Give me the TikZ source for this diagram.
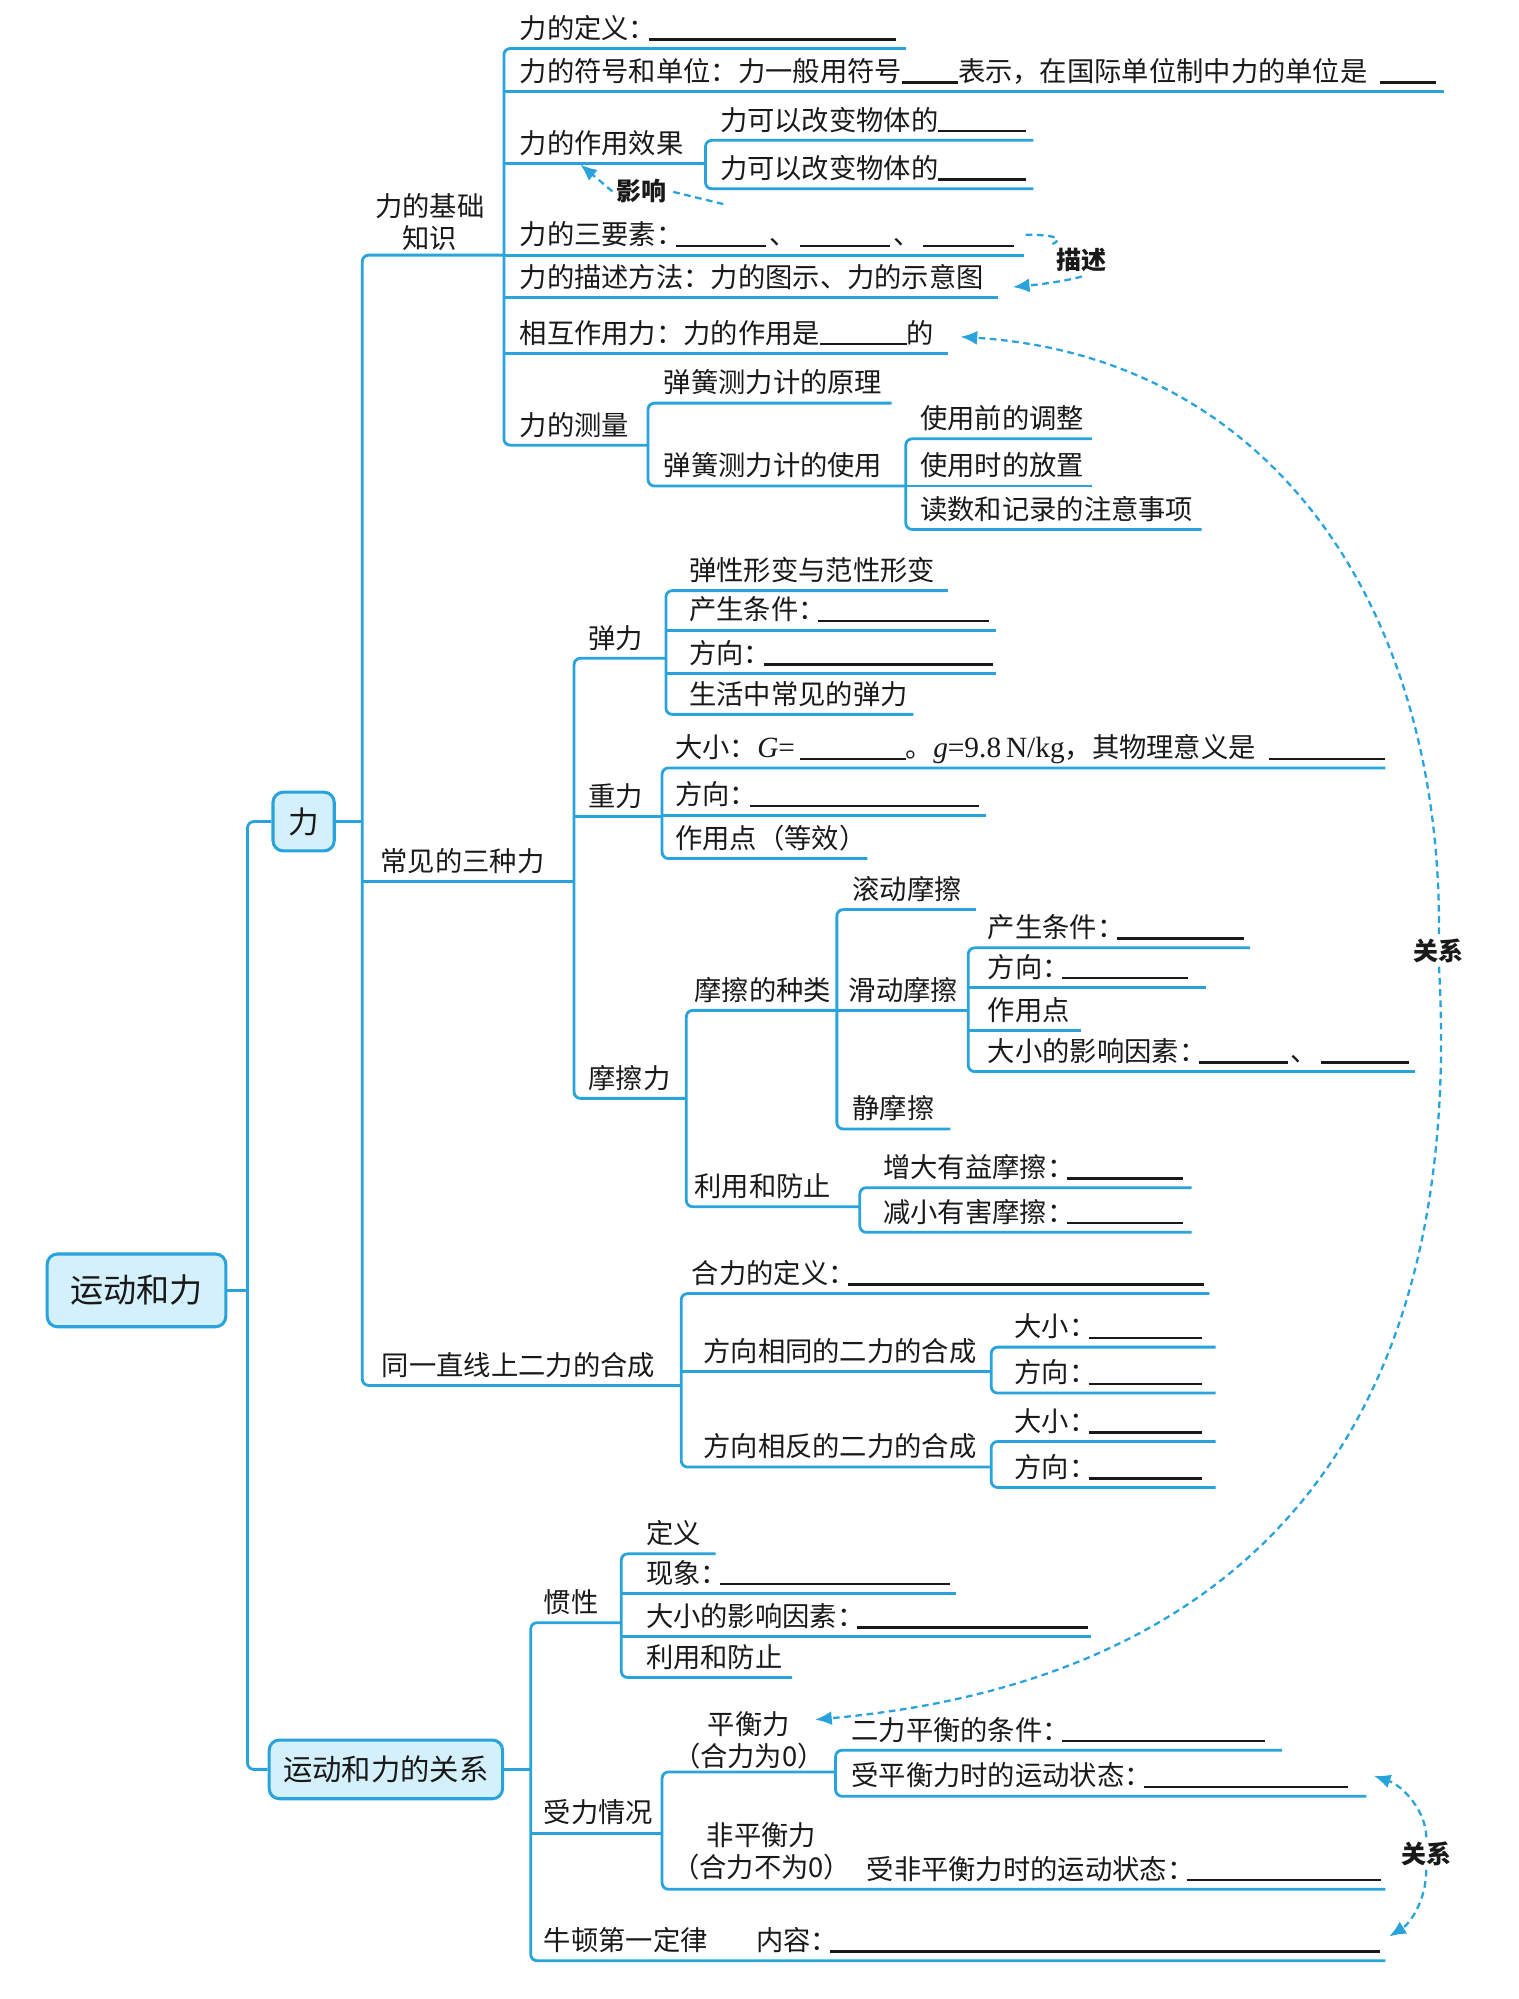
\documentclass[tikz,border=0pt]{standalone}
\usepackage{fontspec}
\setmainfont{Liberation Serif}
\newfontfamily\cjk{Noto Sans CJK SC}
\usetikzlibrary{arrows.meta}
\definecolor{lnblue}{RGB}{40,163,220}
\definecolor{boxfill}{RGB}{212,241,251}
\definecolor{ink}{RGB}{25,25,25}
\newdimen\ux \ux=0.5pt
\newcommand\bk[1]{\rule[-0.9pt]{#1\ux}{1pt}}
\newcommand\cn{\makebox[0.72em][l]{：}}
\newcommand\dun{\makebox[26\ux]{、}}
\newcommand\lat[1]{{\rmfamily\fontsize{11.5pt}{12pt}\selectfont #1}}
\newcommand\mkitem[6]{%
  \node[txt] (#1) at (#4,#3-8) {#6};
  \coordinate (#1-l) at (#2,#3);
  \coordinate (#1-r) at (#5,#3);}
\tikzset{
 txt/.style={anchor=base west, inner sep=0pt, text=ink, font=\cjk\fontsize{10.7pt}{12.5pt}\selectfont},
 txt2/.style={anchor=center, align=center, inner sep=0pt, text=ink, font=\cjk\fontsize{10.7pt}{12.5pt}\selectfont},
 br/.style={draw=lnblue, line width=1.1pt, rounded corners=2.5pt},
 box/.style={draw=lnblue, fill=boxfill, line width=1.2pt, rounded corners=4pt, inner sep=0pt, text=ink},
 lab/.style={inner sep=1.5pt, text=ink, font=\cjk\bfseries\fontsize{9.8pt}{11pt}\selectfont},
 dl/.style={draw=lnblue, line width=0.9pt, dash pattern=on 2.6pt off 1.8pt},
 da/.style={dl, -{Latex[length=6.5pt,width=5.5pt]}},
}
\begin{document}
\begin{tikzpicture}[x=0.5pt,y=-0.5pt]
\useasboundingbox (0,0) rectangle (1190,1567);
% ---- boxes
\node[box, minimum width=70pt, minimum height=28.5pt, font=\cjk\fontsize{13pt}{14pt}\selectfont] (root) at (107,1011.5) {运动和力};
\node[box, minimum width=24pt, minimum height=23pt, font=\cjk\fontsize{12pt}{13pt}\selectfont] (li) at (238,644) {力};
\node[box, minimum width=91.5pt, minimum height=23pt, font=\cjk\fontsize{11.5pt}{12pt}\selectfont] (gx) at (302.5,1387) {运动和力的关系};
\coordinate (v0t) at (194,644);
\coordinate (v0b) at (194,1387);
\draw[br] (li.west) -- (v0t) -- (v0b) -- (gx.west);
\draw[br] (root.east) -- (root.east -| v0t);
% ---- level 2 under 力
\node[txt2] (jc) at (337,174) {力的基础\\知识};
\coordinate (jc-l) at (284,200);
\coordinate (jc-r) at (395,200);
\mkitem{cj}{284}{691}{298}{450}{常见的三种力}
\mkitem{hc}{284}{1086}{299}{534}{同一直线上二力的合成}
\draw[br] (jc-r) -- (jc-l) -- (hc-l) -- (hc-r);
\draw[br] (cj-l) -- (cj-r);
\draw[br] (li.east) -- (li.east -| jc-l);
% ---- 力的基础知识
\mkitem{dy}{395}{38}{407}{710}{力的定义\cn\bk{194}}
\mkitem{fh}{395}{72}{407}{1132}{力的符号和单位：力一般用符号\bk{44}表示，在国际单位制中力的单位是\hspace{5pt}\bk{44}}
\mkitem{xg}{395}{128}{407}{553}{力的作用效果}
\mkitem{sy}{395}{200}{407}{803}{力的三要素\cn\bk{71}\dun\bk{71}\dun\bk{71}}
\mkitem{ms}{395}{233}{407}{782}{力的描述方法：力的图示、力的示意图}
\mkitem{hx}{395}{277}{407}{743}{相互作用力：力的作用是\bk{68}的}
\mkitem{cl}{395}{349}{407}{508}{力的测量}
\draw[br] (dy-r) -- (dy-l) -- (cl-l) -- (cl-r);
\foreach \n in {fh,xg,sy,ms,hx} \draw[br] (\n-l) -- (\n-r);
\mkitem{xga}{553}{110}{564}{810}{力可以改变物体的\bk{69}}
\mkitem{xgb}{553}{148}{564}{810}{力可以改变物体的\bk{69}}
\draw[br] (xga-r) -- (xga-l) -- (xgb-l) -- (xgb-r);
\mkitem{cla}{508}{316}{520}{699}{弹簧测力计的原理}
\mkitem{clb}{508}{381}{520}{710}{弹簧测力计的使用}
\draw[br] (cla-r) -- (cla-l) -- (clb-l) -- (clb-r);
\mkitem{usa}{710}{344}{721}{856}{使用前的调整}
\mkitem{usb}{710}{381}{721}{856}{使用时的放置}
\mkitem{usc}{710}{415}{721}{942}{读数和记录的注意事项}
\draw[br] (usa-r) -- (usa-l) -- (usc-l) -- (usc-r);
\draw[br] (usb-l) -- (usb-r);
% ---- 常见的三种力
\mkitem{tl}{450}{516}{461}{522}{弹力}
\mkitem{zl}{450}{640}{461}{519}{重力}
\mkitem{mc}{450}{861}{461}{538}{摩擦力}
\draw[br] (tl-r) -- (tl-l) -- (mc-l) -- (mc-r);
\draw[br] (zl-l) -- (zl-r);
\mkitem{tla}{522}{463}{540}{743}{弹性形变与范性形变}
\mkitem{tlb}{522}{494}{540}{781}{产生条件\cn\bk{134}}
\mkitem{tlc}{522}{528}{540}{781}{方向\cn\bk{180}}
\mkitem{tld}{522}{560}{540}{716}{生活中常见的弹力}
\draw[br] (tla-r) -- (tla-l) -- (tld-l) -- (tld-r);
\draw[br] (tlb-l) -- (tlb-r);
\draw[br] (tlc-l) -- (tlc-r);
\mkitem{zla}{519}{602}{529}{1086}{大小：\lat{\textit{G}=}\hspace{2pt}\bk{83}。\lat{\textit{g}=9.8\,N/kg}，其物理意义是\hspace{5pt}\bk{91}}
\mkitem{zlb}{519}{639}{529}{773}{方向\cn\bk{180}}
\mkitem{zlc}{519}{673}{529}{680}{作用点（等效）}
\draw[br] (zla-r) -- (zla-l) -- (zlc-l) -- (zlc-r);
\draw[br] (zlb-l) -- (zlb-r);
\mkitem{mz}{538}{792}{544}{656}{摩擦的种类}
\mkitem{ly}{538}{946}{544}{674}{利用和防止}
\draw[br] (mz-r) -- (mz-l) -- (ly-l) -- (ly-r);
\mkitem{gd}{656}{713}{668}{765}{滚动摩擦}
\mkitem{hd}{656}{792}{665}{759}{滑动摩擦}
\mkitem{jm}{656}{885}{668}{745}{静摩擦}
\draw[br] (gd-r) -- (gd-l) -- (jm-l) -- (jm-r);
\draw[br] (hd-l) -- (hd-r);
\mkitem{hda}{759}{743}{774}{980}{产生条件\cn\bk{100}}
\mkitem{hdb}{759}{774}{774}{945}{方向\cn\bk{99}}
\mkitem{hdc}{759}{808}{774}{847}{作用点}
\mkitem{hdd}{759}{840}{774}{1109}{大小的影响因素\cn\bk{70}\dun\bk{69}}
\draw[br] (hda-r) -- (hda-l) -- (hdd-l) -- (hdd-r);
\draw[br] (hdb-l) -- (hdb-r);
\draw[br] (hdc-l) -- (hdc-r);
\mkitem{lya}{674}{931}{692}{934}{增大有益摩擦\cn\bk{91}}
\mkitem{lyb}{674}{966}{692}{934}{减小有害摩擦\cn\bk{91}}
\draw[br] (lya-r) -- (lya-l) -- (lyb-l) -- (lyb-r);
% ---- 同一直线上二力的合成
\mkitem{hca}{534}{1014}{542}{948}{合力的定义\cn\bk{279}}
\mkitem{hcb}{534}{1075}{551}{777}{方向相同的二力的合成}
\mkitem{hcc}{534}{1150}{551}{777}{方向相反的二力的合成}
\draw[br] (hca-r) -- (hca-l) -- (hcc-l) -- (hcc-r);
\draw[br] (hcb-l) -- (hcb-r);
\mkitem{hcba}{777}{1056}{795}{953}{大小\cn\bk{89}}
\mkitem{hcbb}{777}{1092}{795}{953}{方向\cn\bk{89}}
\draw[br] (hcba-r) -- (hcba-l) -- (hcbb-l) -- (hcbb-r);
\mkitem{hcca}{777}{1130}{795}{953}{大小\cn\bk{89}}
\mkitem{hccb}{777}{1166}{795}{953}{方向\cn\bk{89}}
\draw[br] (hcca-r) -- (hcca-l) -- (hccb-l) -- (hccb-r);
% ---- 运动和力的关系
\mkitem{gxa}{416}{1272}{426}{487}{惯性}
\mkitem{gxb}{416}{1437}{426}{519}{受力情况}
\mkitem{gxc}{416}{1537}{426}{1086}{牛顿第一定律\hspace{19pt}内容\cn\bk{431}}
\draw[br] (gxa-r) -- (gxa-l) -- (gxc-l) -- (gxc-r);
\draw[br] (gxb-l) -- (gxb-r);
\draw[br] (gx.east) -- (gx.east -| gxa-l);
\mkitem{gxaa}{487}{1218}{506}{561}{定义}
\mkitem{gxab}{487}{1249}{506}{749}{现象\cn\bk{180}}
\mkitem{gxac}{487}{1283}{506}{855}{大小的影响因素\cn\bk{181}}
\mkitem{gxad}{487}{1315}{506}{621}{利用和防止}
\draw[br] (gxaa-r) -- (gxaa-l) -- (gxad-l) -- (gxad-r);
\draw[br] (gxab-l) -- (gxab-r);
\draw[br] (gxac-l) -- (gxac-r);
\node[txt2] (ph) at (587,1364) {平衡力\\（合力为0）};
\coordinate (ph-l) at (519,1389);
\coordinate (ph-r) at (655,1389);
\node[txt2] (fp) at (597,1451) {非平衡力\\（合力不为0）};
\node[txt] (fpa) at (679,1473) {受非平衡力时的运动状态\cn\bk{152}};
\coordinate (fp-l) at (519,1481);
\coordinate (fp-r) at (1086,1481);
\draw[br] (ph-r) -- (ph-l) -- (fp-l) -- (fp-r);
\mkitem{pha}{655}{1372}{667}{1005}{二力平衡的条件\cn\bk{159}}
\mkitem{phb}{655}{1408}{667}{1071}{受平衡力时的运动状态\cn\bk{160}}
\draw[br] (pha-r) -- (pha-l) -- (phb-l) -- (phb-r);
% ---- dashed annotations
\node[lab] (yx) at (503,150) {影响};
\coordinate (yxs) at (567,160);
\coordinate (yxt) at (455,129);
\draw[dl] (yxs) -- (yx.east);
\draw[da] (yx.west) -- (yxt);
\node[lab] (msl) at (848,204) {描述};
\coordinate (mss) at (804,184);
\coordinate (mst) at (794,225);
\draw[dl] (mss) .. controls (822,184) and (836,186) .. (msl.north west);
\draw[da] (msl.south) .. controls (838,220) and (815,223) .. (mst);
\node[lab] (gxl) at (1128,745) {关系};
\coordinate (gxs) at (753,264);
\coordinate (gxt) at (639,1348);
\draw[da] (gxl.north) .. controls (1130,480) and (1000,280) .. (gxs);
\draw[da] (gxl.south) .. controls (1150,1150) and (950,1320) .. (gxt);
\node[lab] (gxm) at (1118,1453) {关系};
\coordinate (gxu) at (1077,1392);
\coordinate (gxv) at (1089,1518);
\draw[da] (gxm.north) .. controls (1118,1420) and (1100,1400) .. (gxu);
\draw[da] (gxm.south) .. controls (1118,1490) and (1105,1508) .. (gxv);
\end{tikzpicture}
\end{document}
